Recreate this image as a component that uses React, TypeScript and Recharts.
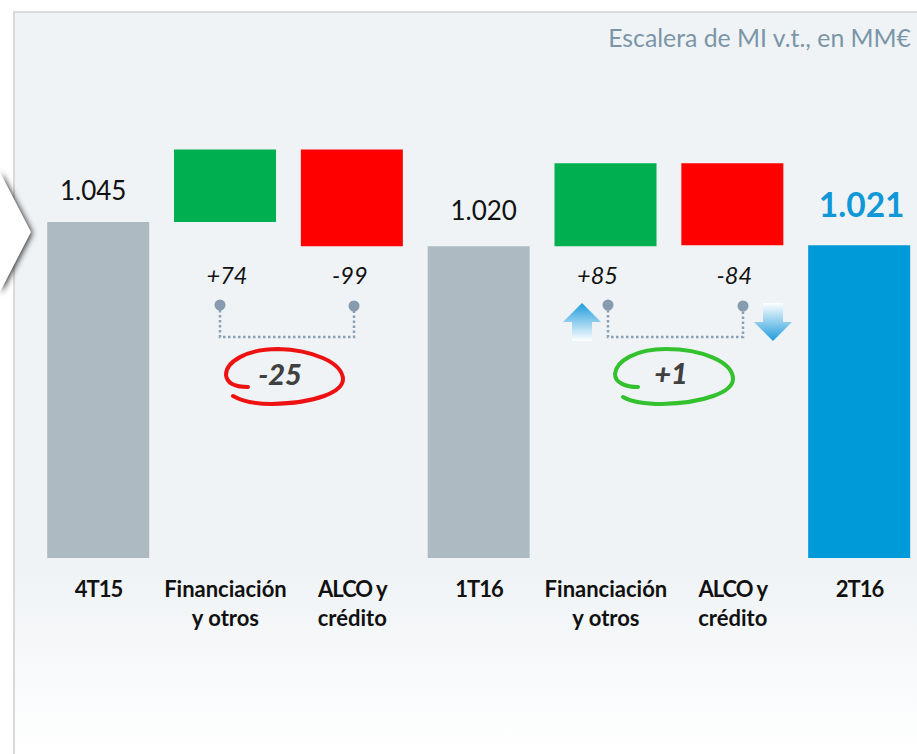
import { Bar, BarChart, Cell, LabelList, XAxis, YAxis } from "recharts";

const FONT = "Lato, sans-serif";

const categories = [
  ["4T15"],
  ["Financiación", "y otros"],
  ["ALCO y", "crédito"],
  ["1T16"],
  ["Financiación", "y otros"],
  ["ALCO y", "crédito"],
  ["2T16"],
];
// floating bars, the grey/blue ones start at the cut axis
const barLow = [701, 1045, 1020, 701, 1020, 1021, 701];
const barHigh = [1045, 1119, 1119, 1020, 1105, 1105, 1021];
const barColors = ["#adbac2", "#00b050", "#ff0000", "#adbac2", "#00b050", "#ff0000", "#009ad9"];
const totalLabels = ["1.045", "", "", "1.020", "", "", "1.021"];
const deltaLabels = ["", "+74", "-99", "", "+85", "-84", ""];

const data = categories.map((c, i) => ({
  name: c.join(" "),
  lines: c,
  range: [barLow[i], barHigh[i]],
  total: totalLabels[i],
  delta: deltaLabels[i],
}));

// small per-label nudges, the labels do not sit exactly on the bar centres
const totalNudgeX = [-5, 0, 0, 5, 0, 0, 2.5];
const totalNudgeY = [22, 0, 0, 26, 0, 0, 28];
const deltaNudge = [0, 2, -2, 0, -8, 2, 0];

function CategoryTick({ x, y, index }: any) {
  return (
    <text
      x={x}
      y={y}
      textAnchor="middle"
      fontFamily={FONT}
      fontSize={22}
      fontWeight={700}
      fill="#111"
    >
      {categories[index].map((line, i) => (
        // capitals run wider in Lato than in the original font
        <tspan
          key={line}
          x={x}
          y={y + 33 + i * 29}
          letterSpacing={/^(ALCO|\dT)/.test(line) ? -1 : 0}
        >
          {line}
        </tspan>
      ))}
    </text>
  );
}

function TotalLabel({ x, y, width, index }: any) {
  const text = totalLabels[index];
  if (!text) return null;
  const isLast = index === categories.length - 1;
  return (
    <text
      x={x + width / 2 + totalNudgeX[index]}
      y={y - totalNudgeY[index]}
      textAnchor="middle"
      fontFamily={FONT}
      fontSize={isLast ? 33.5 : 26}
      fontWeight={isLast ? 700 : 400}
      fill={isLast ? "#0f97d8" : "#111"}
    >
      {text}
    </text>
  );
}

function DeltaLabel({ x, width, index }: any) {
  const text = deltaLabels[index];
  if (!text) return null;
  return (
    <text
      x={x + width / 2 + deltaNudge[index]}
      y={284}
      textAnchor="middle"
      fontFamily={FONT}
      fontSize={23.5}
      fontStyle="italic"
      fill="#111"
    >
      {text}
    </text>
  );
}

function Notes() {
  return (
    <svg width={917} height={754} style={{ position: "absolute", left: 0, top: 0 }}>
      <defs>
        <linearGradient id="arrowUp" x1="0" y1="0" x2="0" y2="1">
          <stop offset="0%" stopColor="#1f9bdc" />
          <stop offset="100%" stopColor="#ffffff" />
        </linearGradient>
        <linearGradient id="arrowDown" x1="0" y1="0" x2="0" y2="1">
          <stop offset="0%" stopColor="#ffffff" />
          <stop offset="100%" stopColor="#1f9bdc" />
        </linearGradient>
      </defs>

      <text x={911} y={47} textAnchor="end" fontFamily={FONT} fontSize={24.8} fill="#7b95a8">
        Escalera de MI v.t., en MM€
      </text>

      <path d="M220 305 V337 H354 V306" fill="none" stroke="#8aa0b4" strokeWidth={2.5} strokeDasharray="2.5 2.5" />
      <circle cx={220} cy={305} r={5.5} fill="#869cae" />
      <circle cx={354} cy={306} r={5.5} fill="#869cae" />
      <path d="M608 305 V337 H743 V306" fill="none" stroke="#8aa0b4" strokeWidth={2.5} strokeDasharray="2.5 2.5" />
      <circle cx={608} cy={305} r={5.5} fill="#869cae" />
      <circle cx={743} cy={306} r={5.5} fill="#869cae" />

      <path d="M563 322 L582 303 L601 322 H592 V341 H572 V322 Z" fill="url(#arrowUp)" />
      <path d="M763 303 H783 V322 H792 L773 341 L754 322 H763 Z" fill="url(#arrowDown)" />

      <path
        d="M248 387 C236 387 227 384 226 375 C226 362 246 349 278 349 C312 350 342 362 343 379 C343 392 316 403 272 404 C254 404 240 400 233 396"
        fill="none"
        stroke="#ee1111"
        strokeWidth={4}
        strokeLinecap="round"
      />
      <path
        d="M638 387 C626 387 615 383 615 374 C616 361 636 349 666 349 C702 349 733 362 733 379 C733 392 704 403 662 404 C645 404 630 401 623 397"
        fill="none"
        stroke="#33c12e"
        strokeWidth={4}
        strokeLinecap="round"
      />
      <text x={280} y={385} textAnchor="middle" fontFamily={FONT} fontSize={29} fontWeight={900} fontStyle="italic" fill="#404040">
        -25
      </text>
      <text x={671} y={384} textAnchor="middle" fontFamily={FONT} fontSize={29} fontWeight={900} fontStyle="italic" fill="#404040">
        +1
      </text>
    </svg>
  );
}

export default function App() {
  return (
    <div
      style={{
        position: "absolute",
        left: 0,
        top: 0,
        width: 917,
        height: 754,
        overflow: "hidden",
        background: "#fff",
      }}
    >
      {/* panel behind the chart */}
      <div
        style={{
          position: "absolute",
          left: 13,
          top: 11,
          width: 904,
          height: 743,
          boxSizing: "border-box",
          borderLeft: "2px solid #d9d9d9",
          borderTop: "2px solid #dcdcdc",
          background: "linear-gradient(180deg, #eff3f5 0%, #eff3f5 75%, #ffffff 100%)",
        }}
      />
      <svg
        width={60}
        height={200}
        style={{ position: "absolute", left: 0, top: 140, filter: "drop-shadow(1px 1px 3px rgba(0,0,0,0.9))" }}
      >
        <path d="M-20 -6 L0 32 L31 92 L0 152 L-20 190 Z" fill="#fff" />
      </svg>

      <div style={{ position: "absolute", left: 0, top: 0 }}>
        <BarChart
          width={925}
          height={754}
          data={data}
          margin={{ top: 148.6, right: 2, bottom: 136, left: 35.2 }}
          barCategoryGap={24.8}
        >
          <XAxis
            dataKey="name"
            axisLine={false}
            tickLine={false}
            height={60}
            interval={0}
            tickMargin={0}
            tick={<CategoryTick />}
          />
          <YAxis hide domain={[701, 1120]} allowDataOverflow />
          <Bar dataKey="range" barSize={102} isAnimationActive={false}>
            {data.map((d, i) => (
              <Cell key={i} fill={barColors[i]} />
            ))}
            <LabelList dataKey="total" content={<TotalLabel />} />
            <LabelList dataKey="delta" content={<DeltaLabel />} />
          </Bar>
        </BarChart>
      </div>
      <Notes />
    </div>
  );
}
